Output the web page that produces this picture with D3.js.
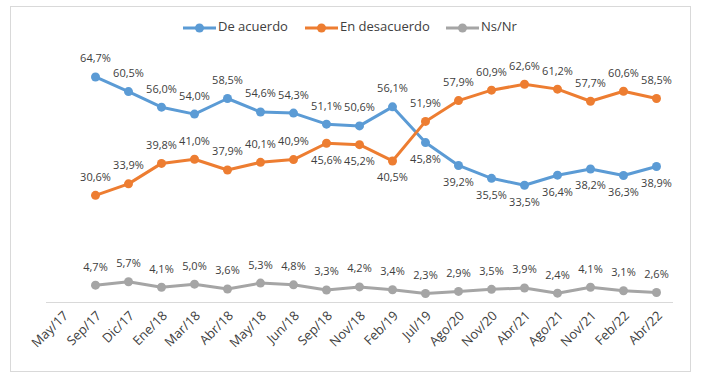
<!DOCTYPE html>
<html>
<head>
<meta charset="utf-8">
<script src="https://cdn.jsdelivr.net/npm/d3@7"></script>
<style>
  body { margin: 0; background: #fff; }
  text { font-family: "Open Sans", sans-serif; fill: #404040; }
</style>
</head>
<body>
<div id="chart"></div>
<script>
// categories on the x axis (first one has no data)
const periods = ['May/17', 'Sep/17', 'Dic/17', 'Ene/18', 'Mar/18', 'Abr/18', 'May/18', 'Jun/18', 'Sep/18',
    'Nov/18', 'Feb/19', 'Jul/19', 'Ago/20', 'Nov/20', 'Abr/21', 'Ago/21', 'Nov/21', 'Feb/22', 'Abr/22']

const deAcuerdo = [null, 64.7, 60.5, 56.0, 54.0, 58.5, 54.6, 54.3, 51.1, 50.6, 56.1, 45.8, 39.2, 35.5, 33.5, 36.4, 38.2, 36.3, 38.9]
const enDesacuerdo = [null, 30.6, 33.9, 39.8, 41.0, 37.9, 40.1, 40.9, 45.6, 45.2, 40.5, 51.9, 57.9, 60.9, 62.6, 61.2, 57.7, 60.6, 58.5]
const nsNr = [null, 4.7, 5.7, 4.1, 5.0, 3.6, 5.3, 4.8, 3.3, 4.2, 3.4, 2.3, 2.9, 3.5, 3.9, 2.4, 4.1, 3.1, 2.6]

// where the data label sits: 1 = above the point, -1 = below
const acuerdoSide = [0, 1, 1, 1, 1, 1, 1, 1, 1, 1, 1, -1, -1, -1, -1, -1, -1, -1, -1]
const desacuerdoSide = [0, 1, 1, 1, 1, 1, 1, 1, -1, -1, -1, 1, 1, 1, 1, 1, 1, 1, 1]
const nsSide = periods.map(() => 1)

const series = [
    { name: 'De acuerdo', values: deAcuerdo, side: acuerdoSide, color: '#5b9bd5' },
    { name: 'En desacuerdo', values: enDesacuerdo, side: desacuerdoSide, color: '#ed7d31' },
    { name: 'Ns/Nr', values: nsNr, side: nsSide, color: '#a5a5a5' }
]

const width = 705,
    height = 379

let svg = d3.select('#chart')
    .append('svg')
    .attr('width', width)
    .attr('height', height)

svg.append('rect')
    .attr('x', 10.5)
    .attr('y', 6.5)
    .attr('width', 680)
    .attr('height', 365)
    .attr('fill', '#fff')
    .attr('stroke', '#d9d9d9')

let x = d3.scaleBand()
    .domain(periods)
    .range([46, 673])

let y = d3.scaleLinear()
    .domain([0, 70])
    .range([301.5, 58.6])

const cx = d => x(d) + x.bandwidth() / 2

// category axis
svg.append('line')
    .attr('x1', 46)
    .attr('x2', 673)
    .attr('y1', 302.5)
    .attr('y2', 302.5)
    .attr('stroke', '#d9d9d9')

svg.append('g')
    .selectAll('text')
    .data(periods)
    .join('text')
    .attr('transform', d => `translate(${cx(d) + 4},${314}) rotate(-45)`)
    .attr('text-anchor', 'end')
    .attr('dominant-baseline', 'middle')
    .style('font-size', '13px')
    .text(d => d)

const fmt = v => v.toFixed(1).replace('.', ',') + '%'

series.forEach(s => {
    let pts = periods.map((p, i) => ({ p, v: s.values[i], side: s.side[i] }))
        .filter(d => d.v !== null)

    let line = d3.line()
        .x(d => cx(d.p))
        .y(d => y(d.v))

    let g = svg.append('g')

    g.append('path')
        .datum(pts)
        .attr('d', line)
        .attr('fill', 'none')
        .attr('stroke', s.color)
        .attr('stroke-width', 3)
        .attr('stroke-linejoin', 'round')

    g.selectAll('circle')
        .data(pts)
        .join('circle')
        .attr('cx', d => cx(d.p))
        .attr('cy', d => y(d.v))
        .attr('r', 4.5)
        .attr('fill', s.color)

    g.selectAll('text')
        .data(pts)
        .join('text')
        .attr('x', d => cx(d.p))
        .attr('y', d => y(d.v) - d.side * 17.5)
        .attr('text-anchor', 'middle')
        .attr('dominant-baseline', 'middle')
        .style('font-size', '11px')
        .text(d => fmt(d.v))
})

// legend
const legendX = [183, 305, 446]
let legend = svg.append('g')
series.forEach((s, i) => {
    let lg = legend.append('g').attr('transform', `translate(${legendX[i]},28)`)
    lg.append('line')
        .attr('x1', 0)
        .attr('x2', 33)
        .attr('stroke', s.color)
        .attr('stroke-width', 3)
    lg.append('circle')
        .attr('cx', 16.5)
        .attr('r', 4.5)
        .attr('fill', s.color)
    lg.append('text')
        .attr('x', 35)
        .attr('dominant-baseline', 'middle')
        .style('font-size', '13px')
        .text(s.name)
})
</script>
</body>
</html>
